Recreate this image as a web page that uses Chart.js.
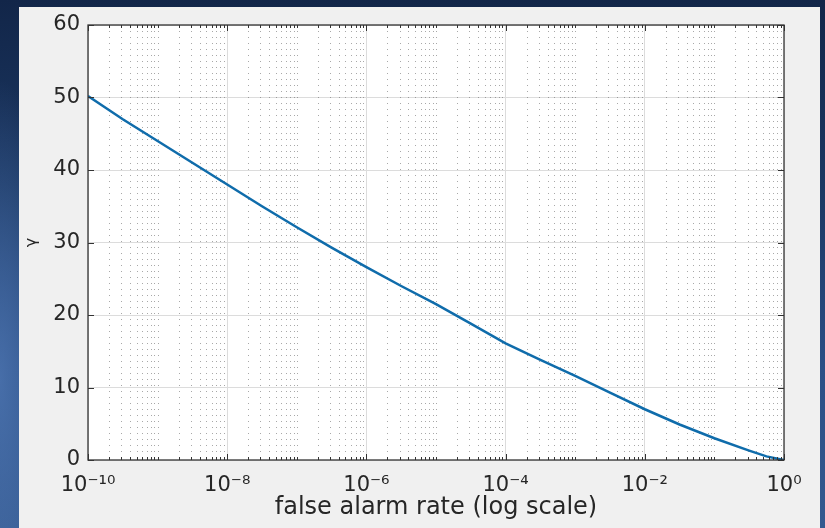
<!DOCTYPE html>
<html>
<head>
<meta charset="utf-8">
<script src="https://cdn.jsdelivr.net/npm/chart.js@4.4.1/dist/chart.umd.min.js"></script>
<style>
  html, body { margin: 0; padding: 0; }
  body {
    width: 825px; height: 528px; overflow: hidden; position: relative;
    background:
      radial-gradient(ellipse 60px 300px at 0px 380px, rgba(80,120,180,0.75), rgba(80,120,180,0) 100%),
      linear-gradient(180deg, #122649 0%, #1b3762 35%, #2b4f86 70%, #34598f 100%);
  }
  #panel {
    position: absolute; left: 19px; top: 7px; width: 801px; height: 521px;
    background: #f0f0f0;
  }
  canvas { display: block; }
</style>
</head>
<body>
<div id="panel"><canvas id="c" width="801" height="521"></canvas></div>
<script>
// ---- data ----
const falseAlarmRate = [1e-10, 3.16e-10, 1e-9, 3.16e-9, 1e-8, 3.16e-8, 1e-7, 3.16e-7, 1e-6, 3.16e-6, 1e-5, 3.16e-5, 1e-4, 3.16e-4, 1e-3, 3.16e-3, 1e-2, 3.16e-2, 1e-1, 3.16e-1, 5.6e-1, 1];
const gammaValues    = [50.2, 47.0, 44.0, 41.0, 38.0, 35.0, 32.1, 29.3, 26.6, 24.0, 21.5, 18.8, 16.1, 13.8, 11.6, 9.3, 7.0, 4.9, 3.0, 1.3, 0.5, 0.0];

const xTickValues = [1e-10, 1e-8, 1e-6, 1e-4, 1e-2, 1];
const xTickLabels = ['10\u207B\u00B9\u2070', '10\u207B\u2078', '10\u207B\u2076', '10\u207B\u2074', '10\u207B\u00B2', '10\u2070'];
const yTickValues = [0, 10, 20, 30, 40, 50, 60];
const xTitle = 'false alarm rate (log scale)';
const yTitle = '\u03B3';

const FONT = 'DejaVu Sans';
const TEXT = '#262626';

// minor positions (2..9 x 10^k) for the log axis grid / ticks
const minorX = [];
for (let k = -10; k < 0; k++) {
  for (let m = 1; m <= 9; m++) {
    const v = m * Math.pow(10, k);
    if (!xTickValues.some(t => Math.abs(Math.log10(t) - Math.log10(v)) < 1e-9)) minorX.push(v);
  }
}

const matlabAxes = {
  id: 'matlabAxes',
  beforeDraw(chart) {
    const {ctx, chartArea: a} = chart;
    ctx.save();
    ctx.fillStyle = '#ffffff';
    ctx.fillRect(a.left, a.top, a.right - a.left, a.bottom - a.top);
    ctx.restore();
  },
  beforeDatasetsDraw(chart) {
    const {ctx, chartArea: a, scales: {x}} = chart;
    ctx.save();
    ctx.strokeStyle = 'rgba(110,110,110,0.6)';
    ctx.lineWidth = 1;
    ctx.setLineDash([1, 5]);
    minorX.forEach(v => {
      const px = Math.round(x.getPixelForValue(v)) + 0.5;
      ctx.beginPath(); ctx.moveTo(px, a.top); ctx.lineTo(px, a.bottom); ctx.stroke();
    });
    ctx.restore();
  },
  afterDatasetsDraw(chart) {
    const {ctx, chartArea: a, scales: {x, y}} = chart;
    ctx.save();
    ctx.strokeStyle = '#333333';
    ctx.lineWidth = 1.3;
    ctx.strokeRect(a.left, a.top, a.right - a.left, a.bottom - a.top);
    ctx.lineWidth = 1;
    const tick = (x1, y1, x2, y2) => { ctx.beginPath(); ctx.moveTo(x1, y1); ctx.lineTo(x2, y2); ctx.stroke(); };
    xTickValues.forEach(v => {
      const px = Math.round(x.getPixelForValue(v)) + 0.5;
      tick(px, a.bottom, px, a.bottom - 6); tick(px, a.top, px, a.top + 6);
    });
    minorX.forEach(v => {
      const px = Math.round(x.getPixelForValue(v)) + 0.5;
      tick(px, a.bottom, px, a.bottom - 3); tick(px, a.top, px, a.top + 3);
    });
    yTickValues.forEach(v => {
      const py = Math.round(y.getPixelForValue(v)) + 0.5;
      tick(a.left, py, a.left + 6, py); tick(a.right, py, a.right - 6, py);
    });
    ctx.restore();
  }
};

new Chart(document.getElementById('c'), {
  type: 'line',
  data: {
    datasets: [{
      data: falseAlarmRate.map((v, i) => ({x: v, y: gammaValues[i]})),
      borderColor: '#0f6cab',
      borderWidth: 2.5,
      pointRadius: 0,
      tension: 0,
      fill: false
    }]
  },
  options: {
    responsive: false,
    animation: false,
    layout: {padding: {left: 0, top: 18, right: 36, bottom: 0}},
    plugins: {legend: {display: false}, tooltip: {enabled: false}},
    scales: {
      x: {
        type: 'logarithmic',
        min: 1e-10, max: 1,
        afterBuildTicks: s => { s.ticks = xTickValues.map(v => ({value: v, major: true})); },
        afterFit: s => { s.height = 68; s.paddingLeft = 0; s.paddingRight = 0; },
        ticks: {
          autoSkip: false, maxRotation: 0,
          padding: 13,
          color: TEXT,
          font: {family: FONT, size: 21},
          callback: (v) => {
            const i = xTickValues.findIndex(t => Math.abs(Math.log10(t) - Math.log10(v)) < 1e-6);
            return i >= 0 ? xTickLabels[i] : '';
          }
        },
        grid: {color: '#dcdcdc', lineWidth: 1, drawTicks: false},
        border: {display: false},
        title: {display: true, text: xTitle, color: TEXT, font: {family: FONT, size: 24}, padding: {top: 0, bottom: 6}}
      },
      y: {
        min: 0, max: 60,
        afterBuildTicks: s => { s.ticks = yTickValues.map(v => ({value: v})); },
        afterFit: s => { s.width = 69; s.paddingTop = 0; s.paddingBottom = 0; },
        ticks: {padding: 8, color: TEXT, font: {family: FONT, size: 21}},
        grid: {color: '#dcdcdc', lineWidth: 1, drawTicks: false},
        border: {display: false},
        title: {display: true, text: yTitle, color: TEXT, font: {family: FONT, size: 16}, padding: {top: 3, bottom: 0}}
      }
    }
  },
  plugins: [matlabAxes]
});
</script>
</body>
</html>
